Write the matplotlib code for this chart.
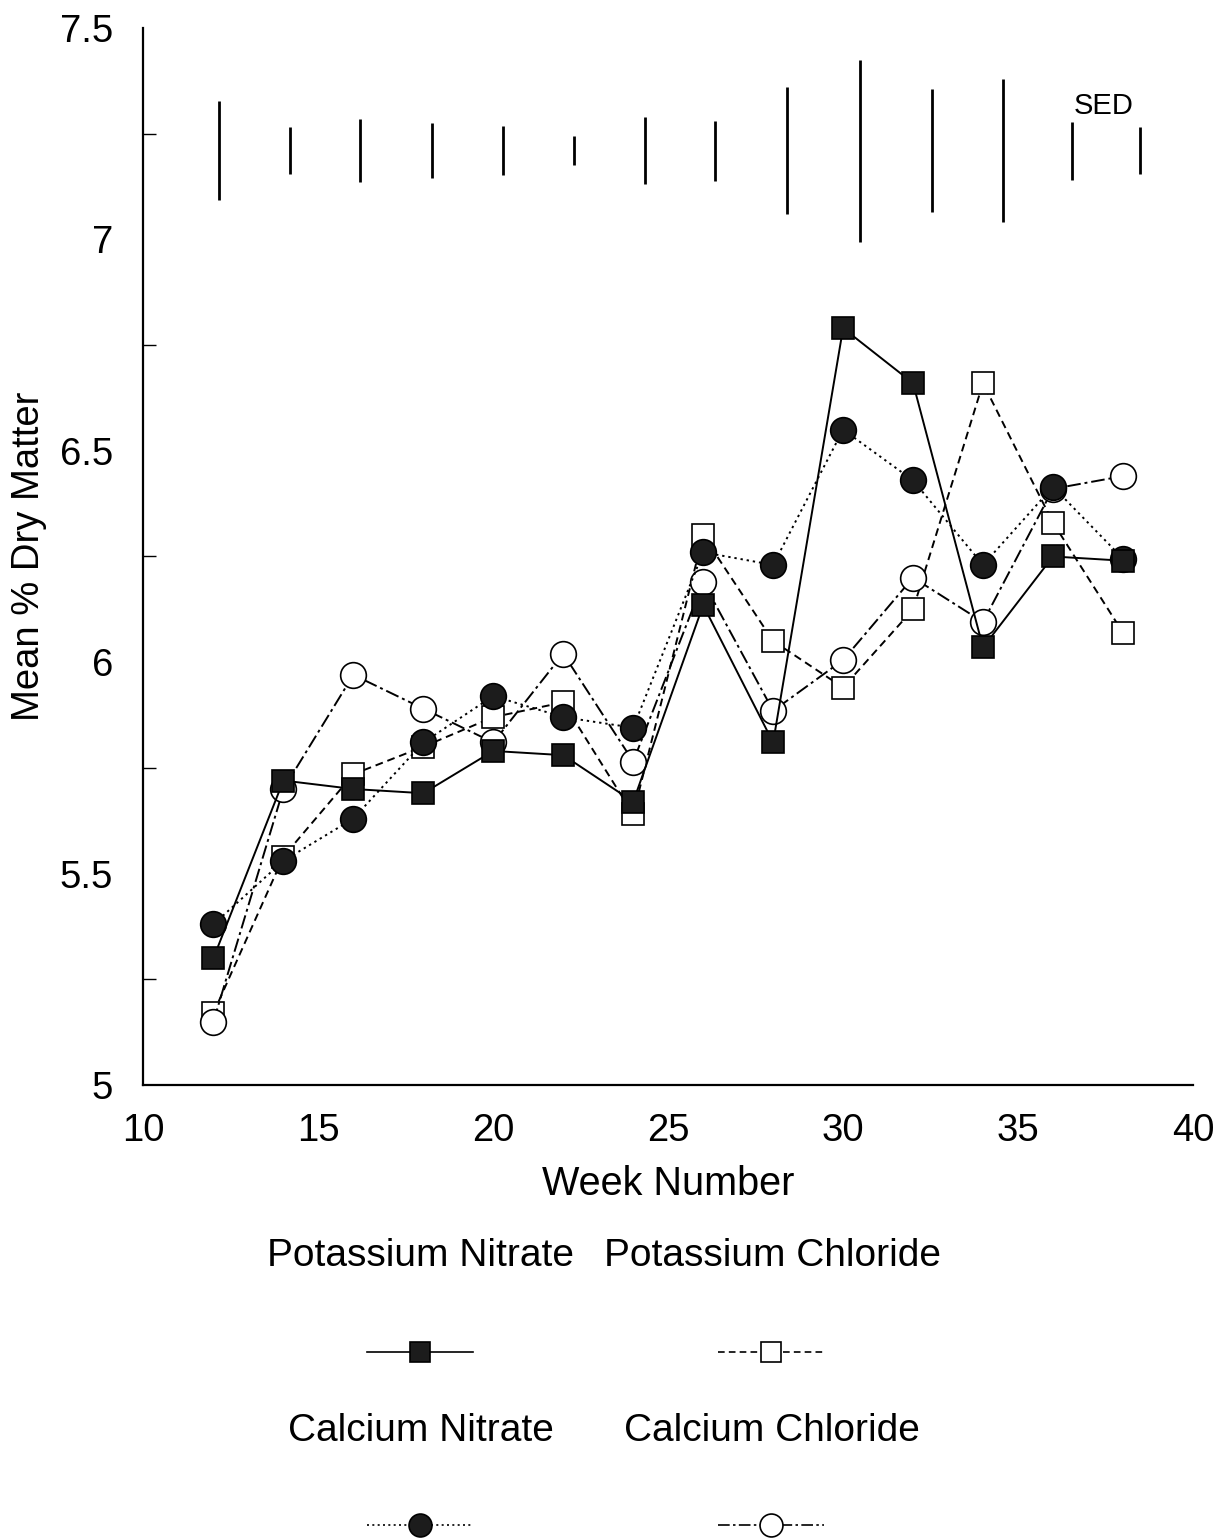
import numpy as np
import matplotlib
matplotlib.use("Agg")
import matplotlib.pyplot as plt
from matplotlib.lines import Line2D

plt.rcParams['font.family'] = ['Liberation Sans', 'DejaVu Sans']

weeks = [12, 14, 16, 18, 20, 22, 24, 26, 28, 30, 32, 34, 36, 38]

pot_nitrate = [5.30, 5.72, 5.70, 5.69, 5.79, 5.78, 5.67, 6.135, 5.81, 6.79, 6.66, 6.035, 6.25, 6.24]
pot_chloride = [5.17, 5.54, 5.735, 5.80, 5.87, 5.905, 5.64, 6.30, 6.05, 5.94, 6.125, 6.66, 6.33, 6.07]
cal_nitrate = [5.38, 5.53, 5.63, 5.81, 5.92, 5.87, 5.845, 6.26, 6.23, 6.55, 6.43, 6.23, 6.415, 6.245]
cal_chloride = [5.15, 5.70, 5.97, 5.89, 5.81, 6.02, 5.765, 6.19, 5.885, 6.005, 6.20, 6.095, 6.41, 6.44]

# SED bars: drawn slightly right of each week in the original
sed_x = [12.15, 14.19, 16.2, 18.24, 20.28, 22.32, 24.33, 26.34, 28.40, 30.47, 32.54, 34.57, 36.55, 38.5]
sed = [0.234, 0.111, 0.149, 0.130, 0.116, 0.069, 0.159, 0.142, 0.30, 0.43, 0.29, 0.34, 0.137, 0.111]
sed_centre = 7.21

labels = ["Potassium Nitrate", "Potassium Chloride", "Calcium Nitrate", "Calcium Chloride"]

# drawing order: open squares, open circles, filled circles, filled squares
series = [
    dict(y=pot_chloride, ls=(0, (4, 2.5)), marker='s', fc='white', ms=16.5, z=2),
    dict(y=cal_chloride, ls=(0, (7, 2, 1.5, 2)), marker='o', fc='white', ms=18.5, z=3),
    dict(y=cal_nitrate, ls=(0, (1.2, 2)), marker='o', fc='#1c1c1c', ms=18.5, z=4),
    dict(y=pot_nitrate, ls='-', marker='s', fc='#1c1c1c', ms=16.5, z=5),
]

fig = plt.figure(figsize=(12.16, 15.40), dpi=100)
ax = fig.add_axes([0.118, 0.2955, 0.863, 0.6863])

for s in series:
    ax.plot(weeks, s['y'], color='black', lw=1.4, linestyle=s['ls'],
            marker=s['marker'], markersize=s['ms'], markerfacecolor=s['fc'],
            markeredgecolor='black', markeredgewidth=1.2, zorder=s['z'])

ax.vlines(sed_x, sed_centre - np.array(sed) / 2, sed_centre + np.array(sed) / 2,
          color='black', lw=2.0)
ax.text(37.45, 7.315, "SED", fontsize=21, ha='center', va='center')

ax.set_xlim(10, 40)
ax.set_ylim(5, 7.5)
ax.set_xticks([10, 15, 20, 25, 30, 35, 40])
ax.set_xticklabels(['10', '15', '20', '25', '30', '35', '40'])
ax.set_xticks([15, 20, 25, 30, 35], minor=True)
ax.set_yticks([5, 5.5, 6, 6.5, 7, 7.5])
ax.set_yticklabels(['5', '5.5', '6', '6.5', '7', '7.5'])
ax.set_yticks([5.25, 5.75, 6.25, 6.75, 7.25], minor=True)

ax.tick_params(axis='both', which='major', length=0, labelsize=27.5)
ax.tick_params(axis='x', which='major', pad=20)
ax.tick_params(axis='y', which='major', pad=22)
ax.tick_params(axis='x', which='minor', direction='in', length=17, width=1.0)
ax.tick_params(axis='y', which='minor', direction='in', length=9, width=1.0)

for side in ['top', 'right']:
    ax.spines[side].set_visible(False)
for side in ['left', 'bottom']:
    ax.spines[side].set_linewidth(1.6)

ax.set_xlabel("Week Number", fontsize=28.5)
ax.xaxis.set_label_coords(0.5, -0.076)
ax.set_ylabel("Mean % Dry Matter", fontsize=27.5)
ax.yaxis.set_label_coords(-0.092, 0.5)

# legend below the plot: label above its sample line
leg_order = [3, 0, 2, 1]
col_x = [0.345, 0.634]
text_y = [0.1845, 0.0710]
line_y = [0.1221, 0.0100]
half = 0.0436
for i, idx in enumerate(leg_order):
    s = series[idx]
    r, c = divmod(i, 2)
    fig.text(col_x[c] + 0.001, text_y[r], labels[i], fontsize=28, ha='center', va='center')
    fig.add_artist(Line2D([col_x[c] - half, col_x[c] + half], [line_y[r], line_y[r]],
                          transform=fig.transFigure, color='black', lw=1.2, linestyle=s['ls']))
    fig.add_artist(Line2D([col_x[c]], [line_y[r]], transform=fig.transFigure,
                          marker=s['marker'], markersize=s['ms'] - 2, markerfacecolor=s['fc'],
                          markeredgecolor='black', markeredgewidth=1.2, linestyle='none'))

fig.savefig("out.png", dpi=100)
